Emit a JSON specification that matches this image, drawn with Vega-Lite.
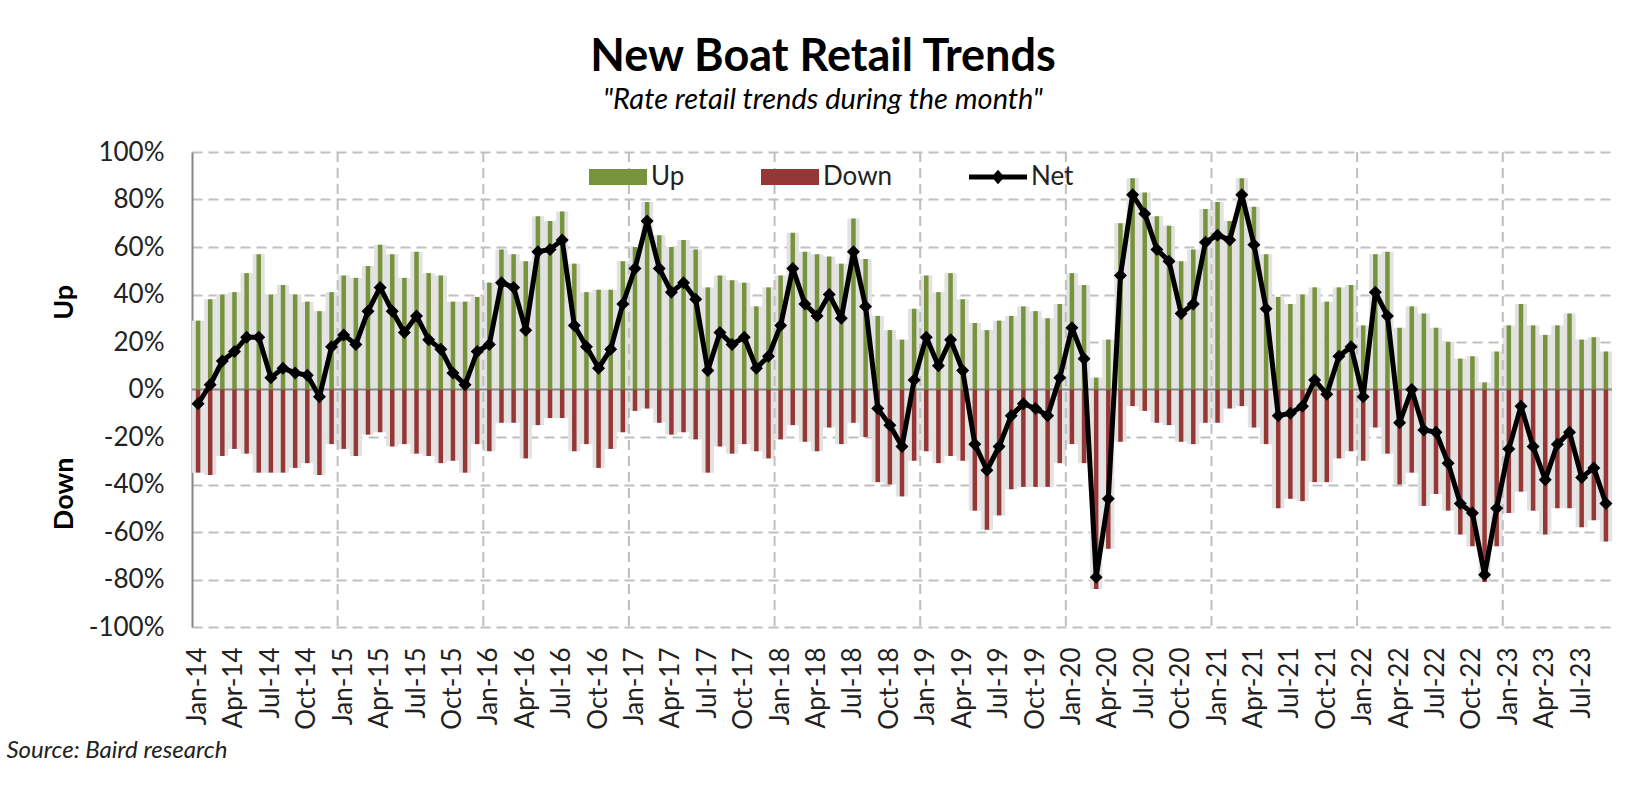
{
  "$schema": "https://vega.github.io/schema/vega-lite/v6.json",
  "autosize": "none",
  "width": 1420,
  "height": 475,
  "padding": {"left": 192, "top": 152, "right": 35, "bottom": 166},
  "background": "white",
  "title": {
    "text": "New Boat Retail Trends",
    "subtitle": "\"Rate retail trends during the month\"",
    "font": "Lato",
    "fontSize": 45,
    "fontWeight": "bold",
    "color": "#000000",
    "subtitleFont": "Lato",
    "subtitleFontSize": 29,
    "subtitleFontStyle": "italic",
    "subtitleColor": "#000000",
    "subtitlePadding": 6,
    "anchor": "middle",
    "frame": "group",
    "dx": -79,
    "offset": 24
  },
  "data": {
    "values": [
      {"m": "Jan-14", "up": 29, "down": -35, "net": -6},
      {"m": "Feb-14", "up": 38, "down": -36, "net": 2},
      {"m": "Mar-14", "up": 40, "down": -28, "net": 12},
      {"m": "Apr-14", "up": 41, "down": -25, "net": 16},
      {"m": "May-14", "up": 49, "down": -27, "net": 22},
      {"m": "Jun-14", "up": 57, "down": -35, "net": 22},
      {"m": "Jul-14", "up": 40, "down": -35, "net": 5},
      {"m": "Aug-14", "up": 44, "down": -35, "net": 9},
      {"m": "Sep-14", "up": 40, "down": -33, "net": 7},
      {"m": "Oct-14", "up": 37, "down": -31, "net": 6},
      {"m": "Nov-14", "up": 33, "down": -36, "net": -3},
      {"m": "Dec-14", "up": 41, "down": -23, "net": 18},
      {"m": "Jan-15", "up": 48, "down": -25, "net": 23},
      {"m": "Feb-15", "up": 47, "down": -28, "net": 19},
      {"m": "Mar-15", "up": 52, "down": -19, "net": 33},
      {"m": "Apr-15", "up": 61, "down": -18, "net": 43},
      {"m": "May-15", "up": 57, "down": -24, "net": 33},
      {"m": "Jun-15", "up": 47, "down": -23, "net": 24},
      {"m": "Jul-15", "up": 58, "down": -27, "net": 31},
      {"m": "Aug-15", "up": 49, "down": -28, "net": 21},
      {"m": "Sep-15", "up": 48, "down": -31, "net": 17},
      {"m": "Oct-15", "up": 37, "down": -30, "net": 7},
      {"m": "Nov-15", "up": 37, "down": -35, "net": 2},
      {"m": "Dec-15", "up": 39, "down": -23, "net": 16},
      {"m": "Jan-16", "up": 45, "down": -26, "net": 19},
      {"m": "Feb-16", "up": 59, "down": -14, "net": 45},
      {"m": "Mar-16", "up": 57, "down": -14, "net": 43},
      {"m": "Apr-16", "up": 54, "down": -29, "net": 25},
      {"m": "May-16", "up": 73, "down": -15, "net": 58},
      {"m": "Jun-16", "up": 71, "down": -12, "net": 59},
      {"m": "Jul-16", "up": 75, "down": -12, "net": 63},
      {"m": "Aug-16", "up": 53, "down": -26, "net": 27},
      {"m": "Sep-16", "up": 41, "down": -23, "net": 18},
      {"m": "Oct-16", "up": 42, "down": -33, "net": 9},
      {"m": "Nov-16", "up": 42, "down": -25, "net": 17},
      {"m": "Dec-16", "up": 54, "down": -18, "net": 36},
      {"m": "Jan-17", "up": 60, "down": -9, "net": 51},
      {"m": "Feb-17", "up": 79, "down": -8, "net": 71},
      {"m": "Mar-17", "up": 65, "down": -14, "net": 51},
      {"m": "Apr-17", "up": 60, "down": -19, "net": 41},
      {"m": "May-17", "up": 63, "down": -18, "net": 45},
      {"m": "Jun-17", "up": 59, "down": -21, "net": 38},
      {"m": "Jul-17", "up": 43, "down": -35, "net": 8},
      {"m": "Aug-17", "up": 48, "down": -24, "net": 24},
      {"m": "Sep-17", "up": 46, "down": -27, "net": 19},
      {"m": "Oct-17", "up": 45, "down": -23, "net": 22},
      {"m": "Nov-17", "up": 35, "down": -26, "net": 9},
      {"m": "Dec-17", "up": 43, "down": -29, "net": 14},
      {"m": "Jan-18", "up": 48, "down": -21, "net": 27},
      {"m": "Feb-18", "up": 66, "down": -15, "net": 51},
      {"m": "Mar-18", "up": 58, "down": -22, "net": 36},
      {"m": "Apr-18", "up": 57, "down": -26, "net": 31},
      {"m": "May-18", "up": 56, "down": -16, "net": 40},
      {"m": "Jun-18", "up": 53, "down": -23, "net": 30},
      {"m": "Jul-18", "up": 72, "down": -14, "net": 58},
      {"m": "Aug-18", "up": 55, "down": -20, "net": 35},
      {"m": "Sep-18", "up": 31, "down": -39, "net": -8},
      {"m": "Oct-18", "up": 25, "down": -40, "net": -15},
      {"m": "Nov-18", "up": 21, "down": -45, "net": -24},
      {"m": "Dec-18", "up": 34, "down": -30, "net": 4},
      {"m": "Jan-19", "up": 48, "down": -26, "net": 22},
      {"m": "Feb-19", "up": 41, "down": -31, "net": 10},
      {"m": "Mar-19", "up": 49, "down": -28, "net": 21},
      {"m": "Apr-19", "up": 38, "down": -30, "net": 8},
      {"m": "May-19", "up": 28, "down": -51, "net": -23},
      {"m": "Jun-19", "up": 25, "down": -59, "net": -34},
      {"m": "Jul-19", "up": 29, "down": -53, "net": -24},
      {"m": "Aug-19", "up": 31, "down": -42, "net": -11},
      {"m": "Sep-19", "up": 35, "down": -41, "net": -6},
      {"m": "Oct-19", "up": 33, "down": -41, "net": -8},
      {"m": "Nov-19", "up": 30, "down": -41, "net": -11},
      {"m": "Dec-19", "up": 36, "down": -31, "net": 5},
      {"m": "Jan-20", "up": 49, "down": -23, "net": 26},
      {"m": "Feb-20", "up": 44, "down": -31, "net": 13},
      {"m": "Mar-20", "up": 5, "down": -84, "net": -79},
      {"m": "Apr-20", "up": 21, "down": -67, "net": -46},
      {"m": "May-20", "up": 70, "down": -22, "net": 48},
      {"m": "Jun-20", "up": 89, "down": -7, "net": 82},
      {"m": "Jul-20", "up": 83, "down": -9, "net": 74},
      {"m": "Aug-20", "up": 73, "down": -14, "net": 59},
      {"m": "Sep-20", "up": 69, "down": -15, "net": 54},
      {"m": "Oct-20", "up": 54, "down": -22, "net": 32},
      {"m": "Nov-20", "up": 59, "down": -23, "net": 36},
      {"m": "Dec-20", "up": 76, "down": -14, "net": 62},
      {"m": "Jan-21", "up": 79, "down": -14, "net": 65},
      {"m": "Feb-21", "up": 71, "down": -8, "net": 63},
      {"m": "Mar-21", "up": 89, "down": -7, "net": 82},
      {"m": "Apr-21", "up": 77, "down": -16, "net": 61},
      {"m": "May-21", "up": 57, "down": -23, "net": 34},
      {"m": "Jun-21", "up": 39, "down": -50, "net": -11},
      {"m": "Jul-21", "up": 36, "down": -46, "net": -10},
      {"m": "Aug-21", "up": 40, "down": -47, "net": -7},
      {"m": "Sep-21", "up": 43, "down": -39, "net": 4},
      {"m": "Oct-21", "up": 37, "down": -39, "net": -2},
      {"m": "Nov-21", "up": 43, "down": -29, "net": 14},
      {"m": "Dec-21", "up": 44, "down": -26, "net": 18},
      {"m": "Jan-22", "up": 27, "down": -30, "net": -3},
      {"m": "Feb-22", "up": 57, "down": -16, "net": 41},
      {"m": "Mar-22", "up": 58, "down": -27, "net": 31},
      {"m": "Apr-22", "up": 26, "down": -40, "net": -14},
      {"m": "May-22", "up": 35, "down": -35, "net": 0},
      {"m": "Jun-22", "up": 32, "down": -49, "net": -17},
      {"m": "Jul-22", "up": 26, "down": -44, "net": -18},
      {"m": "Aug-22", "up": 20, "down": -51, "net": -31},
      {"m": "Sep-22", "up": 13, "down": -61, "net": -48},
      {"m": "Oct-22", "up": 14, "down": -66, "net": -52},
      {"m": "Nov-22", "up": 3, "down": -81, "net": -78},
      {"m": "Dec-22", "up": 16, "down": -66, "net": -50},
      {"m": "Jan-23", "up": 27, "down": -52, "net": -25},
      {"m": "Feb-23", "up": 36, "down": -43, "net": -7},
      {"m": "Mar-23", "up": 27, "down": -51, "net": -24},
      {"m": "Apr-23", "up": 23, "down": -61, "net": -38},
      {"m": "May-23", "up": 27, "down": -50, "net": -23},
      {"m": "Jun-23", "up": 32, "down": -50, "net": -18},
      {"m": "Jul-23", "up": 21, "down": -58, "net": -37},
      {"m": "Aug-23", "up": 22, "down": -55, "net": -33},
      {"m": "Sep-23", "up": 16, "down": -64, "net": -48}
    ]
  },
  "layer": [
    {
      "mark": {"type": "bar", "color": "#e2e2e2", "size": 12.2},
      "encoding": {
        "x": {
          "field": "m",
          "type": "ordinal",
          "sort": null,
          "scale": {"paddingInner": 0, "paddingOuter": 0},
          "axis": {
            "values": ["Jan-14", "Apr-14", "Jul-14", "Oct-14", "Jan-15", "Apr-15", "Jul-15", "Oct-15", "Jan-16", "Apr-16", "Jul-16", "Oct-16", "Jan-17", "Apr-17", "Jul-17", "Oct-17", "Jan-18", "Apr-18", "Jul-18", "Oct-18", "Jan-19", "Apr-19", "Jul-19", "Oct-19", "Jan-20", "Apr-20", "Jul-20", "Oct-20", "Jan-21", "Apr-21", "Jul-21", "Oct-21", "Jan-22", "Apr-22", "Jul-22", "Oct-22", "Jan-23", "Apr-23", "Jul-23"],
            "labelAngle": 270,
            "labelFont": "Lato",
            "labelFontSize": 26,
            "labelColor": "#222222",
            "labelPadding": 20,
            "labelOverlap": false,
            "ticks": false,
            "tickSize": 0,
            "domain": false,
            "grid": false,
            "title": "Source: Baird research",
            "titleFont": "Lato",
            "titleFontSize": 24,
            "titleFontStyle": "italic",
            "titleFontWeight": "normal",
            "titleColor": "#222222",
            "titleAnchor": "start",
            "titleAlign": "left",
            "titleBaseline": "alphabetic",
            "titleX": -186,
            "titleY": 130
          }
        },
        "y": {
          "field": "up",
          "type": "quantitative",
          "scale": {"domain": [-100, 100], "nice": false},
          "axis": {
            "values": [-100, -80, -60, -40, -20, 0, 20, 40, 60, 80, 100],
            "labelExpr": "datum.value + '%'",
            "labelFont": "Lato",
            "labelFontSize": 26,
            "labelColor": "#222222",
            "labelPadding": 28,
            "ticks": false,
            "tickSize": 0,
            "domain": true,
            "domainColor": "#868686",
            "domainWidth": 2,
            "grid": true,
            "gridColor": "#bfbfbf",
            "gridWidth": 2,
            "gridDash": [10, 6],
            "title": "Down\u00a0\u00a0\u00a0\u00a0\u00a0\u00a0\u00a0\u00a0\u00a0\u00a0\u00a0\u00a0\u00a0\u00a0\u00a0\u00a0\u00a0\u00a0\u00a0\u00a0\u00a0Up",
            "titleFont": "Lato",
            "titleFontSize": 27,
            "titleFontWeight": "bold",
            "titleColor": "#000000",
            "titleAngle": 270,
            "titleAlign": "center",
            "titleBaseline": "alphabetic",
            "titleX": -120,
            "titleY": 255
          }
        }
      }
    },
    {
      "mark": {"type": "bar", "color": "#e2e2e2", "size": 12.2},
      "encoding": {
        "x": {"field": "m", "type": "ordinal", "sort": null},
        "y": {"field": "down", "type": "quantitative"}
      }
    },
    {
      "mark": {"type": "rule", "color": "#bfbfbf", "strokeWidth": 2, "strokeDash": [10, 6]},
      "encoding": {
        "x": {"field": "m", "type": "ordinal", "sort": null, "bandPosition": 0},
        "strokeOpacity": {
          "condition": {"test": "indexof(datum.m, 'Jan') === 0 && datum.m !== 'Jan-14'", "value": 1},
          "value": 0
        }
      }
    },
    {
      "data": {"values": [{"zero": 0}]},
      "mark": {"type": "rule", "color": "#868686", "strokeWidth": 2},
      "encoding": {
        "y": {"field": "zero", "type": "quantitative"}
      }
    },
    {
      "mark": {"type": "bar", "size": 4.5},
      "encoding": {
        "x": {"field": "m", "type": "ordinal", "sort": null},
        "y": {"field": "up", "type": "quantitative"},
        "color": {
          "datum": "Up",
          "type": "nominal",
          "scale": {"domain": ["Up", "Down", "Net"], "range": ["#77933c", "#953735", "#000000"]},
          "legend": {
            "orient": "none",
            "legendX": 397,
            "legendY": -4,
            "direction": "horizontal",
            "title": null,
            "padding": 0,
            "labelFont": "Lato",
            "labelFontSize": 26,
            "labelColor": "#222222",
            "labelOffset": 4,
            "columnPadding": 76,
            "symbolSize": 3364,
            "symbolStrokeWidth": 0,
            "encode": {
              "symbols": {
                "update": {
                  "shape": {"signal": "datum.value === 'Net' ? 'M-1,-0.09H1V0.09H-1Z M0,-0.25L0.22,0L0,0.25L-0.22,0Z' : 'M-1,-0.28H1V0.28H-1Z'"},
                  "fill": {"signal": "scale('color', datum.value)"},
                  "strokeWidth": {"value": 0},
                  "opacity": {"value": 1}
                }
              }
            }
          }
        }
      }
    },
    {
      "mark": {"type": "bar", "size": 4.5},
      "encoding": {
        "x": {"field": "m", "type": "ordinal", "sort": null},
        "y": {"field": "down", "type": "quantitative"},
        "color": {"datum": "Down", "type": "nominal"}
      }
    },
    {
      "mark": {
        "type": "line",
        "strokeWidth": 5,
        "strokeJoin": "round",
        "point": {"shape": "diamond", "size": 169, "filled": true, "opacity": 1}
      },
      "encoding": {
        "x": {"field": "m", "type": "ordinal", "sort": null},
        "y": {"field": "net", "type": "quantitative"},
        "color": {"datum": "Net", "type": "nominal"}
      }
    }
  ],
  "config": {
    "view": {"stroke": null},
    "font": "Lato"
  }
}
